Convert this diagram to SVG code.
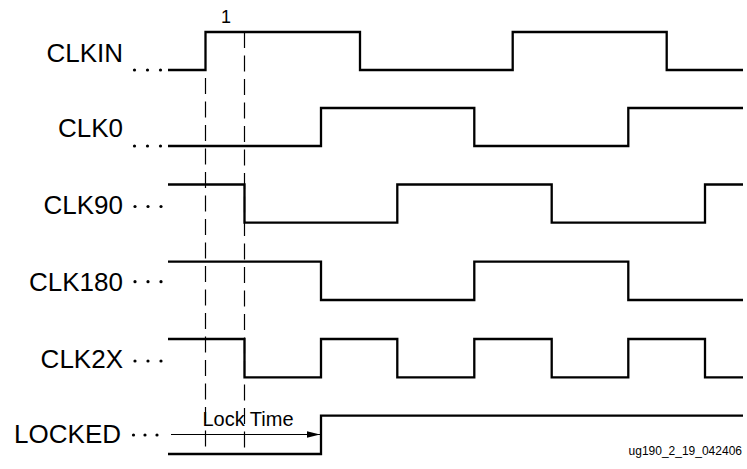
<svg xmlns="http://www.w3.org/2000/svg" width="747" height="469" viewBox="0 0 747 469">
<style>
.lbl{font-family:"Liberation Sans",Arial,sans-serif;font-size:26px;fill:#000;text-anchor:end}
.wave{fill:none;stroke:#000;stroke-width:2.3;stroke-linejoin:miter}
.dash{fill:none;stroke:#000;stroke-width:1.2;stroke-dasharray:16 7.5}
.dot{fill:#000}
.sm{font-family:"Liberation Sans",Arial,sans-serif;fill:#000}
</style>
<defs>
<marker id="ah" markerWidth="14" markerHeight="8" refX="13" refY="4" orient="auto" markerUnits="userSpaceOnUse">
<path d="M0,0.8 L13,4 L0,7.2 Z" fill="#000"/>
</marker>
</defs>
<rect width="747" height="469" fill="#fff"/>
<g id="connectors">
<line class="dash" x1="205.5" y1="78" x2="205.5" y2="455"/>
<line class="dash" x1="244.5" y1="32" x2="244.5" y2="455"/>
<line x1="171" y1="434.5" x2="320" y2="434.5" stroke="#000" stroke-width="1.2" marker-end="url(#ah)"/>
<text class="sm" x="248" y="426" font-size="20" text-anchor="middle">Lock Time</text>
<text class="sm" x="226" y="23" font-size="18" text-anchor="middle">1</text>
</g>
<g id="clkin">
<text class="lbl" x="123" y="61.7">CLKIN</text>
<circle class="dot" cx="134.5" cy="70" r="1.6"/><circle class="dot" cx="147.5" cy="70" r="1.6"/><circle class="dot" cx="160.5" cy="70" r="1.6"/>
<path class="wave" d="M168,70 H205.5 V32 H360 V70 H512.7 V32 H666.7 V70 H743"/>
</g>
<g id="clk0">
<text class="lbl" x="123" y="136.7">CLK0</text>
<circle class="dot" cx="134.5" cy="146" r="1.6"/><circle class="dot" cx="147.5" cy="146" r="1.6"/><circle class="dot" cx="160.5" cy="146" r="1.6"/>
<path class="wave" d="M168,146 H321 V108 H474.3 V146 H628.3 V108 H743"/>
</g>
<g id="clk90">
<text class="lbl" x="123" y="214">CLK90</text>
<circle class="dot" cx="135" cy="206.5" r="1.6"/><circle class="dot" cx="148" cy="206.5" r="1.6"/><circle class="dot" cx="161" cy="206.5" r="1.6"/>
<path class="wave" d="M168,184.5 H244.5 V222.7 H397.3 V184.5 H551.7 V222.7 H705 V184.5 H743"/>
</g>
<g id="clk180">
<text class="lbl" x="123" y="291">CLK180</text>
<circle class="dot" cx="135" cy="281.7" r="1.6"/><circle class="dot" cx="148" cy="281.7" r="1.6"/><circle class="dot" cx="161" cy="281.7" r="1.6"/>
<path class="wave" d="M168,261.7 H321 V300 H474.3 V261.7 H628.3 V300 H743"/>
</g>
<g id="clk2x">
<text class="lbl" x="123" y="367.7">CLK2X</text>
<circle class="dot" cx="135" cy="361" r="1.6"/><circle class="dot" cx="148" cy="361" r="1.6"/><circle class="dot" cx="161" cy="361" r="1.6"/>
<path class="wave" d="M168,339 H244.5 V377.3 H321 V339 H397.3 V377.3 H474.3 V339 H551.7 V377.3 H628.3 V339 H705 V377.3 H743"/>
</g>
<g id="locked">
<text class="lbl" x="121" y="443.3">LOCKED</text>
<circle class="dot" cx="133.5" cy="435" r="1.6"/><circle class="dot" cx="145" cy="435" r="1.6"/><circle class="dot" cx="157" cy="435" r="1.6"/>
<path class="wave" d="M168,454 H321 V415.7 H743"/>
</g>
<text class="sm" x="742" y="455" font-size="12" text-anchor="end">ug190_2_19_042406</text>
</svg>
